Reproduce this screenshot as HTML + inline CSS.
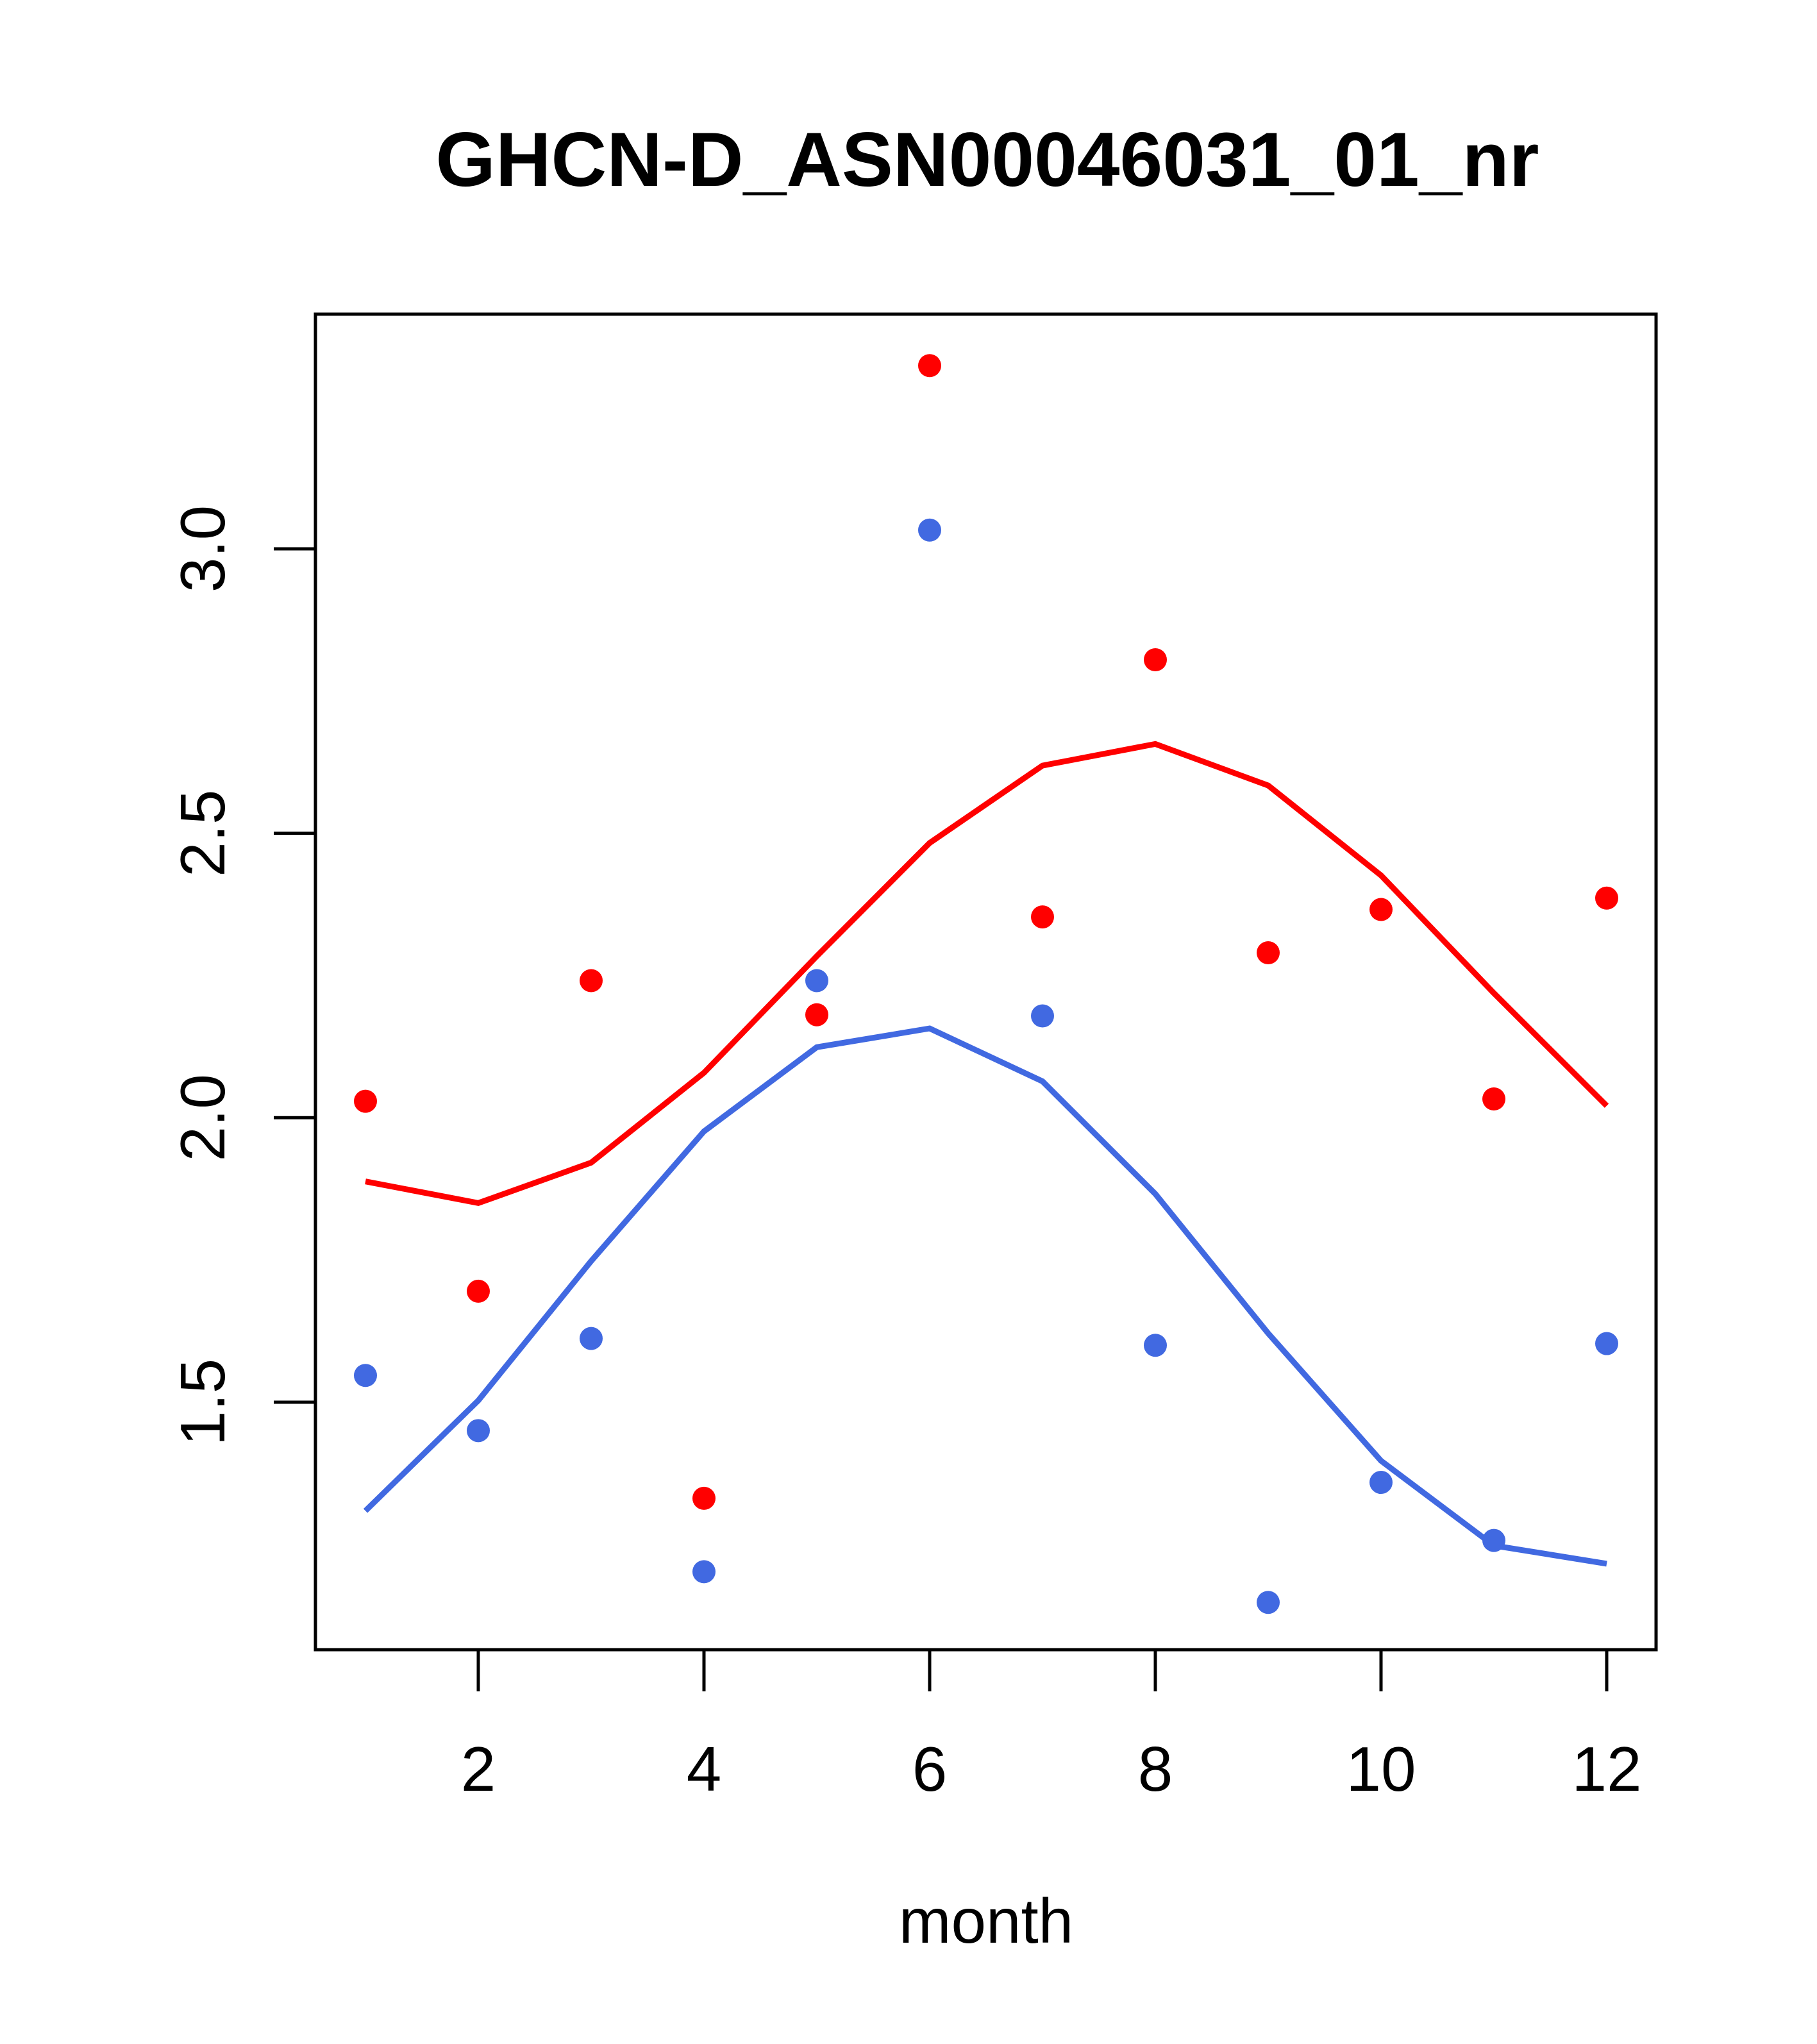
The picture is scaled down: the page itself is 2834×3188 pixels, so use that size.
<!DOCTYPE html>
<html><head><meta charset="utf-8"><style>html,body{margin:0;padding:0;background:#fff}svg{display:block}</style></head>
<body>
<svg width="2834" height="3188" xmlns="http://www.w3.org/2000/svg" font-family="Liberation Sans, sans-serif">
<rect width="2834" height="3188" fill="#fff"/>
<text x="1540" y="290" font-size="120" font-weight="bold" text-anchor="middle">GHCN-D_ASN00046031_01_nr</text>
<rect x="492" y="490" width="2091" height="2083" fill="none" stroke="#000" stroke-width="5"/>
<g id="axes"></g>
<g id="marks"></g>
<text x="1538" y="3030" font-size="98" text-anchor="middle">month</text>
</svg>
<script>
const months=[1,2,3,4,5,6,7,8,9,10,11,12];
const redPoints=[2.029,1.695,2.241,1.331,2.181,3.322,2.353,2.805,2.290,2.366,2.033,2.386];
const bluePoints=[1.547,1.450,1.612,1.202,2.241,3.033,2.179,1.600,1.148,1.359,1.257,1.603];
const redLine=[1.888,1.850,1.921,2.079,2.284,2.483,2.619,2.657,2.584,2.426,2.219,2.021];
const blueLine=[1.309,1.503,1.748,1.976,2.124,2.157,2.064,1.866,1.621,1.397,1.248,1.216];
const xTicks=[2,4,6,8,10,12];
const yTicks=[1.5,2.0,2.5,3.0];
const yTickLabels=["1.5","2.0","2.5","3.0"];
const NS="http://www.w3.org/2000/svg";
function xs(m){return 570+(m-1)*176;}
function ys(v){return 856+(3.0-v)*887.3;}
const axes=document.getElementById('axes'),marks=document.getElementById('marks');
function mk(t,a,p){const e=document.createElementNS(NS,t);for(const k in a)e.setAttribute(k,a[k]);p.appendChild(e);return e;}
xTicks.forEach(t=>{
  const l=mk('line',{x1:xs(t),x2:xs(t),y1:2573,y2:2638,stroke:'#000','stroke-width':5},axes);
  
  
  const tx=mk('text',{x:xs(t),y:2793,'font-size':98,'text-anchor':'middle'},axes);
  tx.textContent=t;
  
  
});
yTicks.forEach((t,i)=>{
  const l=mk('line',{x1:427,x2:492,y1:ys(t),y2:ys(t),stroke:'#000','stroke-width':5},axes);
  
  
  const tx=mk('text',{x:0,y:0,'font-size':98,'text-anchor':'middle',transform:`translate(350,${ys(t)}) rotate(-90)`},axes);
  tx.textContent=yTickLabels[i];
  
  
});
function line(vals,col,name){
  const p=mk('polyline',{points:vals.map((v,i)=>xs(months[i])+','+ys(v)).join(' '),fill:'none',stroke:col,'stroke-width':9},marks);
  
  
}
function pts(vals,col,name){
  vals.forEach((v,i)=>{
    const c=mk('circle',{cx:xs(months[i]),cy:ys(v),r:18,fill:col},marks);
    
    
  });
}
line(redLine,'#ff0000','red-fit-line');
line(blueLine,'#4169e1','blue-fit-line');
pts(redPoints,'#ff0000','red-point');
pts(bluePoints,'#4169e1','blue-point');
</script>
</body></html>
